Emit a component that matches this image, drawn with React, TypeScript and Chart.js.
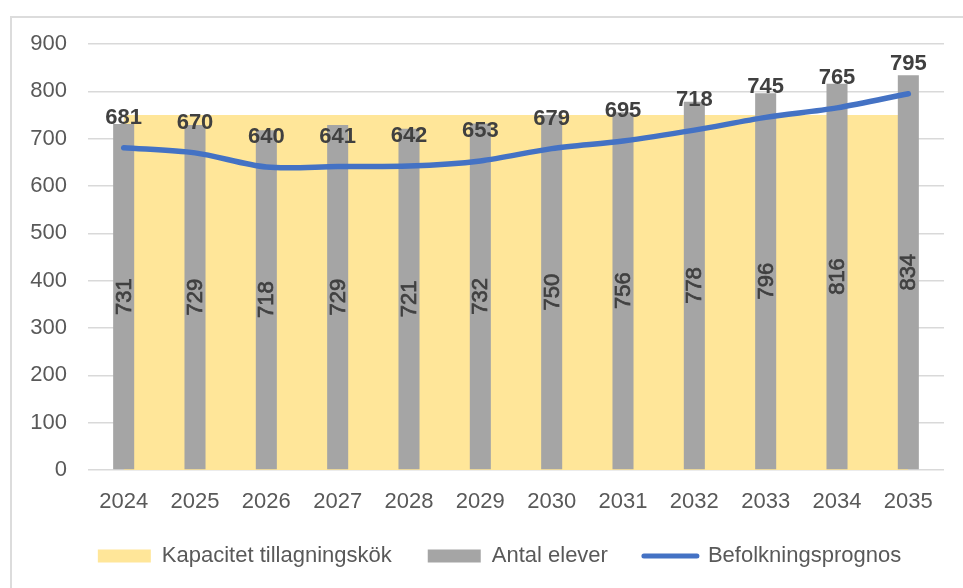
import React, { useEffect, useRef } from 'react';
import { Chart, registerables } from 'chart.js';

Chart.register(...registerables);

// ---- data ----
const years = ['2024', '2025', '2026', '2027', '2028', '2029', '2030', '2031', '2032', '2033', '2034', '2035'];
const capacity = [750, 750, 750, 750, 750, 750, 750, 750, 750, 750, 750, 750];
const students = [731, 729, 718, 729, 721, 732, 750, 756, 778, 796, 816, 834];
const forecast = [681, 670, 640, 641, 642, 653, 679, 695, 718, 745, 765, 795];
const seriesNames = ['Kapacitet tillagningskök', 'Antal elever', 'Befolkningsprognos'];
const yMin = 0;
const yMax = 900;
const yStep = 100;

const FONT = "'Liberation Sans', Arial, sans-serif";
const YELLOW = '#ffe699';
const GRAY = '#a5a5a5';
const BLUE = '#4472c4';
const TEXT = '#595959';
const LABEL = '#404040';

const labelPlugin = {
  id: 'valueLabels',
  afterDatasetsDraw(chart: any) {
    const ctx = chart.ctx;
    ctx.save();
    // bar labels (rotated, centered)
    const barMeta = chart.getDatasetMeta(1);
    ctx.font = `22px ${FONT}`;
    ctx.fillStyle = LABEL;
    ctx.strokeStyle = LABEL;
    ctx.lineWidth = 0.7;
    ctx.textAlign = 'center';
    ctx.textBaseline = 'middle';
    barMeta.data.forEach((el: any, i: number) => {
      const cy = (el.y + el.base) / 2;
      ctx.save();
      ctx.translate(el.x, cy);
      ctx.rotate(-Math.PI / 2);
      ctx.fillText(String(students[i]), 0, 1);
      ctx.strokeText(String(students[i]), 0, 1);
      ctx.restore();
    });
    // line labels above points
    const lineMeta = chart.getDatasetMeta(2);
    ctx.font = `bold 22px ${FONT}`;
    ctx.textBaseline = 'alphabetic';
    lineMeta.data.forEach((el: any, i: number) => {
      ctx.fillText(String(forecast[i]), el.x, el.y - 24);
    });
    ctx.restore();
  },
};

export default function App() {
  const canvasRef = useRef<HTMLCanvasElement | null>(null);

  useEffect(() => {
    if (!canvasRef.current) return;
    const chart = new Chart(canvasRef.current, {
      type: 'bar',
      data: {
        labels: years,
        datasets: [
          {
            type: 'line',
            label: seriesNames[0],
            data: capacity,
            backgroundColor: YELLOW,
            borderColor: YELLOW,
            borderWidth: 0,
            pointRadius: 0,
            fill: 'origin',
            order: 3,
          } as any,
          {
            type: 'bar',
            label: seriesNames[1],
            data: students,
            backgroundColor: GRAY,
            borderWidth: 0,
            barPercentage: 0.295,
            categoryPercentage: 1,
            order: 2,
          } as any,
          {
            type: 'line',
            label: seriesNames[2],
            data: forecast,
            borderColor: BLUE,
            backgroundColor: BLUE,
            borderWidth: 5.5,
            borderCapStyle: 'round',
            borderJoinStyle: 'round',
            pointRadius: 0,
            tension: 0.3,
            fill: false,
            order: 1,
          } as any,
        ],
      },
      options: {
        animation: false,
        responsive: false,
        maintainAspectRatio: false,
        layout: { padding: { left: 20, right: 11, top: 44, bottom: 11 } },
        plugins: {
          tooltip: { enabled: false },
          legend: {
            position: 'bottom',
            labels: {
              font: { family: FONT, size: 22 },
              color: TEXT,
              usePointStyle: true,
              pointStyleWidth: 53,
              boxHeight: 13,
              padding: 36,
              generateLabels: (c: any) =>
                c.data.datasets.map((ds: any, i: number) => ({
                  text: ds.label,
                  fillStyle: i === 2 ? BLUE : ds.backgroundColor,
                  strokeStyle: i === 2 ? BLUE : ds.backgroundColor,
                  lineWidth: i === 2 ? 5 : 0,
                  lineCap: 'round',
                  pointStyle: i === 2 ? 'line' : 'rect',
                  hidden: false,
                  datasetIndex: i,
                  fontColor: TEXT,
                })),
            },
          },
        },
        scales: {
          x: {
            grid: { display: false, drawTicks: false },
            border: { display: false },
            ticks: { font: { family: FONT, size: 22 }, color: TEXT, padding: 19, maxRotation: 0 },
            afterFit: (s: any) => { s.height = 39; },
          },
          y: {
            min: yMin,
            max: yMax,
            ticks: { stepSize: yStep, font: { family: FONT, size: 22 }, color: TEXT, padding: 21 },
            grid: { color: '#d9d9d9', lineWidth: 1.5, drawTicks: false },
            border: { display: false },
            afterFit: (s: any) => { s.width = 68; },
          },
          yRight: {
            position: 'right',
            display: true,
            grid: { display: false, drawTicks: false },
            border: { display: false },
            ticks: { display: false },
            afterFit: (s: any) => { s.width = 35; },
          },
        },
      },
      plugins: [labelPlugin],
    });
    return () => chart.destroy();
  }, []);

  return (
    <div style={{ position: 'fixed', left: 0, top: 0, width: 963, height: 588, overflow: 'hidden', background: '#fff' }}>
      <div
        style={{
          position: 'absolute',
          left: 10,
          top: 16,
          width: 1000,
          height: 700,
          borderLeft: '2px solid #dcdcdc',
          borderTop: '2px solid #dcdcdc',
        }}
      />
      <canvas ref={canvasRef} width={990} height={588} style={{ position: 'absolute', left: 0, top: 0, width: 990, height: 588 }} />
    </div>
  );
}
